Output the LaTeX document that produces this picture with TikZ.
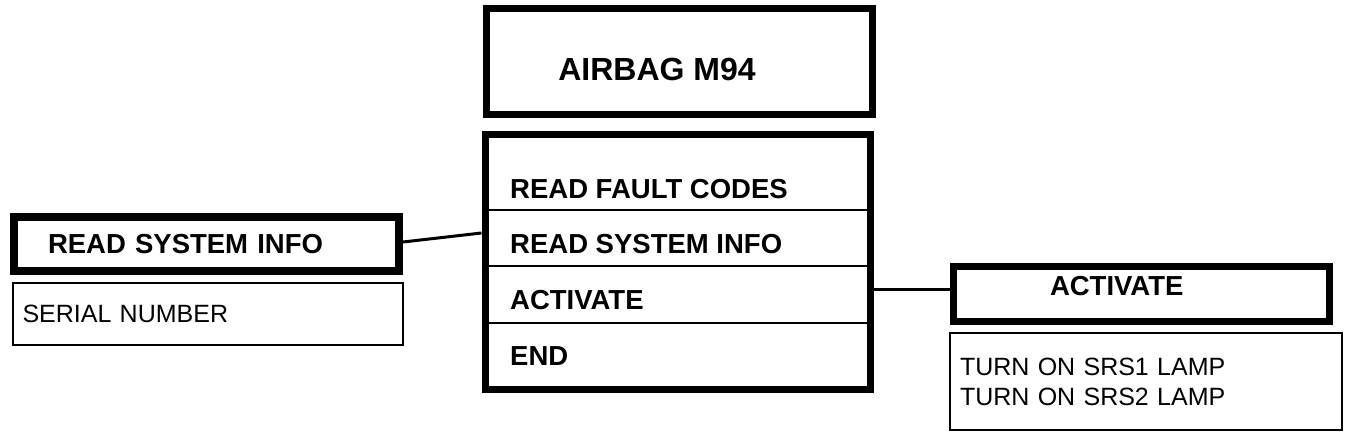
\documentclass[tikz,border=0pt]{standalone}
\usepackage{fontspec}
\setmainfont{Liberation Sans}
\usetikzlibrary{positioning}

\begin{document}
\begin{tikzpicture}[x=1pt,y=-1pt,
    heavy/.style={draw,rectangle,line width=7pt,inner sep=0pt},
    light/.style={draw,rectangle,line width=2pt,inner sep=0pt},
    big/.style={font=\fontsize{27.5}{30}\selectfont\bfseries},
    small/.style={font=\fontsize{25}{30}\selectfont},
    link/.style={line width=3pt}]
    \useasboundingbox (0,0) rectangle (1360,438);

    % title and menu
    \node[heavy,minimum width=386pt,minimum height=106pt] (title) at (679,62) {};
    \node[big,font=\fontsize{32}{34}\selectfont\bfseries,inner sep=0pt] (titletext) at (657,69) {AIRBAG M94};

    \node[heavy,minimum width=385pt,minimum height=254pt] (menu) at (677.5,262) {};
    \foreach \y in {210,266,323}{
            \draw[line width=2.5pt] (menu.west |- 0,\y) -- (menu.east |- 0,\y);
    }
    \foreach \name/\txt/\y in {fault/READ FAULT CODES/189,info/READ SYSTEM INFO/244,act/ACTIVATE/300,quit/END/356}{
            \node[big,anchor=west,inner sep=0pt] (\name) at (510,\y) {\txt};
    }

    % left side
    \node[heavy,line width=8pt,minimum width=385pt,minimum height=54pt,text width=317pt,inner xsep=34pt,align=left,big] (infobox) at (206.5,244) {READ SYSTEM INFO};
    \node[light,minimum width=390pt,minimum height=62pt,text width=370pt,inner xsep=10pt,align=left,small] (serial) at (207.5,314) {SERIAL NUMBER};

    % right side
    \node[heavy,minimum width=376pt,minimum height=55pt,text width=183pt,inner xsep=96.5pt,align=left,text depth=17pt,big] (actbox) at (1141.5,294) {ACTIVATE};
    \node[light,minimum width=392pt,minimum height=97pt,text width=372pt,inner xsep=10pt,align=left,small] (lamps) at (1146,381.5) {TURN ON SRS1 LAMP\\TURN ON SRS2 LAMP};

    \draw[link] ([yshift=2pt]infobox.east) -- ([yshift=11pt]menu.west |- info);
    \draw[link] ([yshift=4pt]menu.east |- actbox.west) -- ([yshift=4pt]actbox.west);

\end{tikzpicture}
\end{document}
